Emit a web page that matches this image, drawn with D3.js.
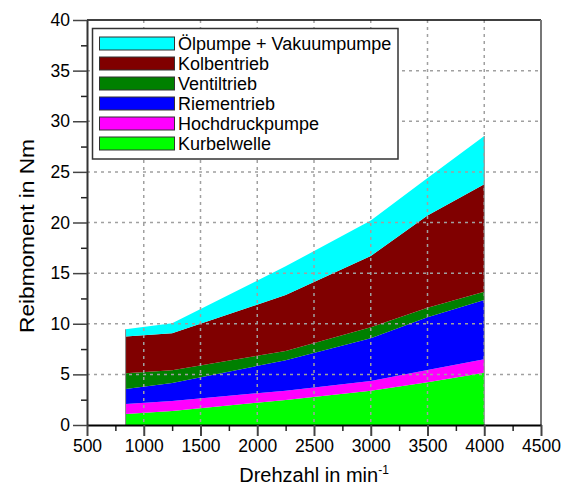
<!DOCTYPE html>
<html><head><meta charset="utf-8">
<script src="https://cdn.jsdelivr.net/npm/d3@7"></script>
<style>
body{margin:0;background:#fff;}
svg{font-family:"Liberation Sans",Arial,sans-serif;}
</style></head>
<body><svg id="c" width="563" height="485"></svg>
<script>
const rpm = [840, 1250, 2250, 3000, 3500, 4000];
const kurbelwelle = [1.09, 1.38, 2.47, 3.39, 4.21, 5.17];
const hochdruckpumpe = [0.98, 0.99, 0.92, 0.96, 1.22, 1.32];
const riementrieb = [1.49, 1.78, 3.00, 4.21, 5.20, 5.86];
const ventiltrieb = [1.54, 1.25, 0.93, 1.09, 0.96, 0.82];
const kolbentrieb = [3.65, 3.65, 5.52, 7.04, 9.11, 10.60];
const oelpumpe = [0.70, 0.99, 2.83, 3.51, 3.70, 4.77];
const seriesNames = ["Kurbelwelle","Hochdruckpumpe","Riementrieb","Ventiltrieb","Kolbentrieb","Ölpumpe + Vakuumpumpe"];
const seriesValues = [kurbelwelle, hochdruckpumpe, riementrieb, ventiltrieb, kolbentrieb, oelpumpe];
const colors = ["#00ff00","#ff00ff","#0000ff","#008000","#800000","#00ffff"];
const xTicks = [500,1000,1500,2000,2500,3000,3500,4000,4500];
const yTicks = [0,5,10,15,20,25,30,35,40];
const xLabel = "Drehzahl in min";
const xLabelSup = "-1";
const yLabel = "Reibmoment in Nm";

const table = rpm.map((r,i)=>{const o={rpm:r}; seriesNames.forEach((n,k)=>o[n]=seriesValues[k][i]); return o;});
const stack = d3.stack().keys(seriesNames)(table);

const svg = d3.select("#c");
const L=87,R=541,T=20,B=425;
const x = d3.scaleLinear().domain([500,4500]).range([L,R]);
const y = d3.scaleLinear().domain([0,40]).range([B,T]);

const area = d3.area().x(d=>x(d.data.rpm)).y0(d=>y(d[0])).y1(d=>y(d[1]));
svg.append("g").selectAll("path").data(stack).join("path")
  .attr("d",area).attr("fill",(d,i)=>colors[i]);

// edge lines of areas
const topLayer = stack[stack.length-1];
[0, rpm.length-1].forEach(i=>{
  svg.append("line").attr("x1",x(rpm[i])).attr("x2",x(rpm[i]))
    .attr("y1",y(0)).attr("y2",y(topLayer[i][1])).attr("stroke","#888").attr("stroke-width",1);
});

// grid
const grid = svg.append("g").attr("stroke","#a0a0a0").attr("stroke-width",1.5).attr("stroke-dasharray","3,4");
xTicks.slice(1,-1).forEach(v=>grid.append("line").attr("x1",x(v)).attr("x2",x(v)).attr("y1",T).attr("y2",B));
yTicks.slice(1,-1).forEach(v=>grid.append("line").attr("x1",L).attr("x2",R).attr("y1",y(v)).attr("y2",y(v)));

// frame top/right
svg.append("line").attr("x1",L).attr("x2",R).attr("y1",T).attr("y2",T).attr("stroke","#000").attr("stroke-width",1.5);
svg.append("line").attr("x1",R).attr("x2",R).attr("y1",T).attr("y2",B).attr("stroke","#777").attr("stroke-width",2);

// minor ticks
const xMinor = d3.range(750,4500,500);
const yMinor = d3.range(2.5,40,5);
svg.append("g").attr("transform",`translate(0,${B})`)
  .call(d3.axisBottom(x).tickValues(xMinor).tickSize(6).tickSizeOuter(0).tickFormat(""))
  .call(g=>{g.select(".domain").remove(); g.selectAll("line").attr("stroke","#222").attr("stroke-width",1.5);});
svg.append("g").attr("transform",`translate(${L},0)`)
  .call(d3.axisLeft(y).tickValues(yMinor).tickSize(6).tickSizeOuter(0).tickFormat(""))
  .call(g=>{g.select(".domain").remove(); g.selectAll("line").attr("stroke","#222").attr("stroke-width",1.5);});

// major axes
const xa = svg.append("g").attr("transform",`translate(0,${B})`)
  .call(d3.axisBottom(x).tickValues(xTicks).tickSize(11).tickPadding(4).tickSizeOuter(0).tickFormat(d3.format("d")));
xa.select(".domain").attr("stroke","#000").attr("stroke-width",2);
xa.selectAll("line").attr("stroke","#444").attr("stroke-width",2);
xa.selectAll("text").attr("font-size",17.5).attr("fill","#000").attr("font-family","Liberation Sans, Arial, sans-serif");

const ya = svg.append("g").attr("transform",`translate(${L},0)`)
  .call(d3.axisLeft(y).tickValues(yTicks).tickSize(14).tickPadding(3).tickSizeOuter(0));
ya.select(".domain").attr("stroke","#333").attr("stroke-width",2);
ya.selectAll("line").attr("stroke","#444").attr("stroke-width",1.5);
ya.selectAll("text").attr("font-size",17.5).attr("fill","#000").attr("font-family","Liberation Sans, Arial, sans-serif");

// axis titles
const xt = svg.append("text").attr("x",(L+R)/2).attr("y",482).attr("text-anchor","middle")
  .attr("font-size",20).attr("fill","#000");
xt.append("tspan").text(xLabel);
xt.append("tspan").text(xLabelSup).attr("font-size",12).attr("dy",-8);
svg.append("text").attr("transform",`translate(34,236) rotate(-90) scale(1.08,1)`).attr("text-anchor","middle")
  .attr("font-size",21).attr("fill","#000").text(yLabel);

// legend
const lg = svg.append("g");
lg.append("rect").attr("x",92.5).attr("y",28.5).attr("width",305.5).attr("height",130.5)
  .attr("fill","#fff").attr("stroke","#333").attr("stroke-width",1.5);
const order = seriesNames.map((n,i)=>i).reverse();
order.forEach((k,j)=>{
  lg.append("rect").attr("x",99.5).attr("y",37 + j*20).attr("width",75).attr("height",13)
    .attr("fill",colors[k]).attr("stroke","#333").attr("stroke-width",1);
  lg.append("text").attr("x",178).attr("y",49.5 + j*20).attr("font-size",18).attr("fill","#000").text(seriesNames[k]);
});
</script></body></html>
